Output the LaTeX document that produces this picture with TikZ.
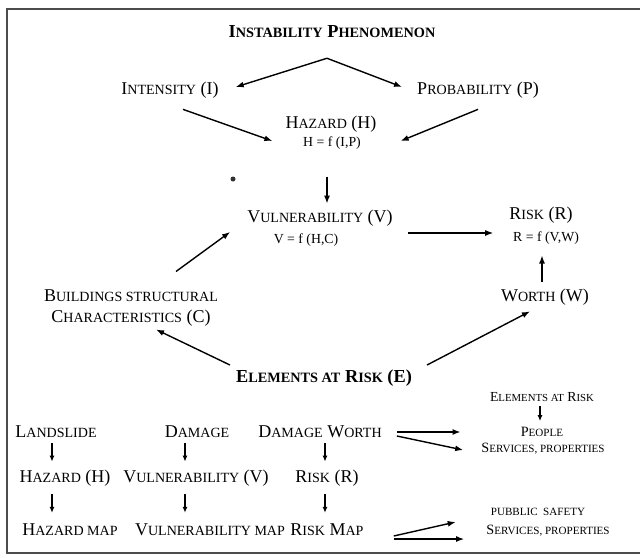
\documentclass[tikz,border=0pt]{standalone}
\usepackage{fontspec}
\setmainfont{Liberation Serif}
\usetikzlibrary{arrows.meta}

% fake small caps: uppercase letters set smaller
\newcommand{\smc}[1]{\scalebox{0.78}{#1}}

\tikzset{
  lbl/.style={inner sep=1pt, font=\fontsize{18}{21}\selectfont},
  blbl/.style={lbl, font=\fontsize{18.3}{21}\selectfont\bfseries},
  frm/.style={inner sep=1pt, font=\fontsize{13.8}{15}\selectfont},
  slbl/.style={inner sep=1pt, font=\fontsize{14.2}{16}\selectfont},
  arr/.style={-{Latex[length=8pt,width=6pt]}, line width=1.4pt},
  sarr/.style={-{Latex[length=6pt,width=5pt]}, line width=1.3pt},
}

\begin{document}
\begin{tikzpicture}[x=1pt, y=-1pt]

  \useasboundingbox (0,0) rectangle (640,557);
  \fill[white] (0,0) rectangle (640,557);
  \draw[line width=2pt, black!70] (640,9) -- (7,9) -- (7,553) -- (640,553);

  % upper part
  \node[blbl] (title) at (332,32) {I\smc{NSTABILITY} P\smc{HENOMENON}};
  \node[lbl]  (int)   at (170,90) {I\smc{NTENSITY} (I)};
  \node[lbl]  (prob)  at (478,90) {P\smc{ROBABILITY} (P)};
  \node[lbl]  (haz)   at (331,124) {H\smc{AZARD} (H)};
  \node[frm]  (hazf)  at (332,143) {H = f (I,P)};
  \node[lbl]  (vul)   at (320,218) {V\smc{ULNERABILITY} (V)};
  \node[frm]  (vulf)  at (306,240) {V = f (H,C)};
  \node[lbl]  (risk)  at (541,215) {R\smc{ISK} (R)};
  \node[frm]  (riskf) at (546,238) {R = f (V,W)};
  \node[lbl]  (worth) at (545,297) {W\smc{ORTH} (W)};
  \node[lbl, align=center] (build) at (131,308)
    {B\smc{UILDINGS STRUCTURAL}\\C\smc{HARACTERISTICS} (C)};
  \node[blbl] (elem)  at (324,378) {E\smc{LEMENTS AT} R\smc{ISK} (E)};
  \fill[black!80] (233,179) circle (2.5);

  \coordinate (apex) at ([shift={(-5,19)}]title.south);
  \draw[arr] (apex) -- ([shift={(16,-3)}]int.east);
  \draw[arr] (apex) -- ([shift={(-14,-3)}]prob.west);
  \draw[arr] ([shift={(13,10)}]int.south) -- ([shift={(-12,17)}]haz.west);
  \draw[arr] ([shift={(0,10)}]prob.south) -- ([shift={(23,17)}]haz.east);
  \draw[arr] ([shift={(-5,26)}]hazf.south) -- ([shift={(7,-5)}]vul.north);
  \draw[arr] ([shift={(14,15)}]vul.east) -- ([shift={(-15,18)}]risk.west);
  \draw[arr] ([shift={(-3,-6)}]worth.north) -- ([shift={(-4,10)}]riskf.south);
  \draw[arr] ([shift={(45,-17)}]build.north) -- ([shift={(-16,14)}]vul.west);
  \draw[arr] ([shift={(-5,-13)}]elem.west) -- ([shift={(25,2)}]build.south);
  \draw[arr] ([shift={(14,-13)}]elem.east) -- ([shift={(-15,5)}]worth.south);

  % lower part
  \node[frm]  (elr)    at (542,397) {E\smc{LEMENTS AT} R\smc{ISK}};
  \node[slbl] (people) at (542,432) {P\smc{EOPLE}};
  \node[slbl] (serv)   at (543,449) {S\smc{ERVICES, PROPERTIES}};
  \node[slbl] (pub)    at (538,512) {\smc{PUBBLIC\ \ SAFETY}};
  \node[slbl] (serv2)  at (548,531) {S\smc{ERVICES, PROPERTIES}};

  \node[lbl] (lands)  at (56,432)  {L\smc{ANDSLIDE}};
  \node[lbl] (dam)    at (197,432) {D\smc{AMAGE}};
  \node[lbl] (dworth) at (320,432) {D\smc{AMAGE} W\smc{ORTH}};
  \node[lbl] (haz2)   at (65,478)  {H\smc{AZARD} (H)};
  \node[lbl] (vul2)   at (196,478) {V\smc{ULNERABILITY} (V)};
  \node[lbl] (risk2)  at (327,478) {R\smc{ISK} (R)};
  \node[lbl] (hmap)   at (70,530)  {H\smc{AZARD MAP}};
  \node[lbl] (vmap)   at (210,530) {V\smc{ULNERABILITY MAP}};
  \node[lbl] (rmap)   at (327,530) {R\smc{ISK} M\smc{AP}};

  \draw[sarr] ([shift={(-2,3)}]elr.south) -- ([shift={(-2,-5)}]people.north);
  \draw[arr] ([shift={(14,0)}]dworth.east) -- ([shift={(-59,0)}]people.west);
  \draw[arr] ([shift={(14,4)}]dworth.east) -- ([shift={(-17,1)}]serv.west);
  \draw[arr] ([shift={(29,6)}]rmap.east) -- ([shift={(-34,10)}]pub.west);
  \draw[arr] ([shift={(29,9)}]rmap.east) -- ([shift={(-21,8)}]serv2.west);

  \draw[sarr] ([shift={(-4,4)}]lands.south) -- ([shift={(-13,-7)}]haz2.north);
  \draw[sarr] ([shift={(-13,7)}]haz2.south) -- ([shift={(-18,-10)}]hmap.north);
  \draw[sarr] ([shift={(-12,4)}]dam.south) -- ([shift={(-11,-7)}]vul2.north);
  \draw[sarr] ([shift={(-11,7)}]vul2.south) -- ([shift={(-25,-10)}]vmap.north);
  \draw[sarr] ([shift={(5,4)}]dworth.south) -- ([shift={(-2,-7)}]risk2.north);
  \draw[sarr] ([shift={(-2,7)}]risk2.south) -- ([shift={(-2,-10)}]rmap.north);

\end{tikzpicture}
\end{document}
